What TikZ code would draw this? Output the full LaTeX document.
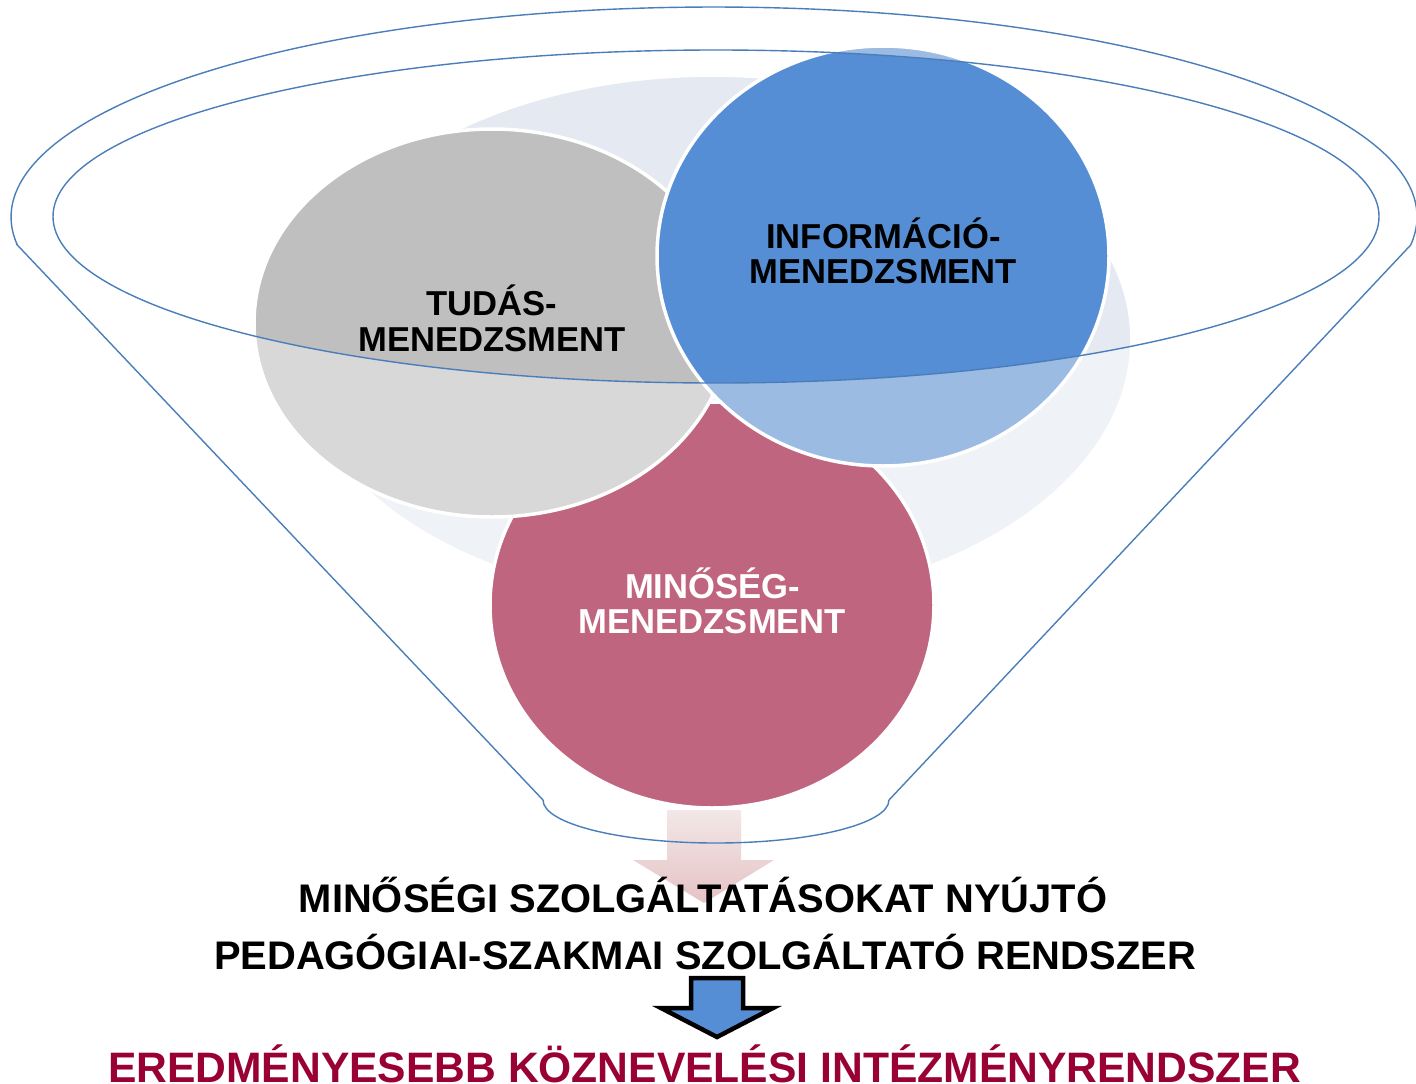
\documentclass[tikz,border=0pt]{standalone}
\usepackage{fontspec}
\setmainfont{Liberation Sans}
\definecolor{paleIn}{HTML}{E4E9F2}
\definecolor{paleOut}{HTML}{EFF3F8}
\definecolor{grayIn}{HTML}{BFBFBF}
\definecolor{grayOut}{HTML}{D8D8D8}
\definecolor{blueIn}{HTML}{558ED5}
\definecolor{blueOut}{HTML}{9BBBE3}
\definecolor{pinkc}{HTML}{C0657F}
\definecolor{lineblue}{HTML}{4A7EBB}
\definecolor{redc}{HTML}{990033}
\definecolor{arrowblue}{HTML}{558ED5}
\definecolor{arrowTop}{HTML}{F3E7E7}
\definecolor{arrowBot}{HTML}{E5C3C5}
\begin{document}
\begin{tikzpicture}[x=1pt,y=-1pt,
  funnel/.style={draw=lineblue, line width=1.4pt},
  whiteedge/.style={draw=white, line width=3.5pt},
  lbl/.style={font=\fontsize{34.6}{38}\selectfont\bfseries, inner sep=0pt, anchor=base},
  big/.style={font=\fontsize{39.9}{44}\selectfont\bfseries, inner sep=0pt, anchor=base},
  redline/.style={font=\fontsize{42.6}{48}\selectfont\bfseries, text=redc, inner sep=0pt, anchor=base},
  arrowbox/.style={draw=black, line width=4.5pt, fill=arrowblue, line join=miter}
]
\useasboundingbox (0,0) rectangle (1416,1084);
\fill[white] (0,0) rectangle (1416,1084);
% pale background ellipse
\fill[paleOut] (712,340) ellipse [x radius=418, y radius=263];
% pink circle
\filldraw[fill=pinkc, whiteedge] (712,605) ellipse [x radius=222, y radius=203];
% gray ellipse
\filldraw[fill=grayOut, whiteedge] (492,323) ellipse [x radius=238, y radius=194];
% blue circle
\filldraw[fill=blueOut, whiteedge] (883,256) ellipse [x radius=226, y radius=210];
% darker parts inside the funnel opening
\begin{scope}
  \clip (716,216.5) ellipse [x radius=663, y radius=166.5];
  \fill[paleIn] (712,340) ellipse [x radius=418, y radius=263];
  \filldraw[fill=grayIn, whiteedge] (492,323) ellipse [x radius=238, y radius=194];
  \filldraw[fill=blueIn, whiteedge] (883,256) ellipse [x radius=226, y radius=210];
\end{scope}
% pale pink arrow
\shade[top color=arrowTop, bottom color=arrowBot]
  (667,810) -- (741,810) -- (741,860) -- (774,860) -- (704,903) -- (633,860) -- (667,860) -- cycle;
% funnel outline
\coordinate (L1) at (17.3,245);
\coordinate (L2) at (543,800);
\coordinate (R1) at (1410.7,245);
\draw[funnel] (L1) -- (L2)
  arc[start angle=180, end angle=0, x radius=173, y radius=43]
  -- (R1)
  arc[start angle=7.66, end angle=-187.66, x radius=703, y radius=210] -- cycle;
\draw[funnel] (716,216.5) ellipse [x radius=663, y radius=166.5];
% labels
\node[lbl] (tudas1) at (492,315) {TUDÁS-};
\node[lbl] (tudas2) at (492,351) {MENEDZSMENT};
\node[lbl] (info1) at (883.5,248) {INFORMÁCIÓ-};
\node[lbl] (info2) at (883.5,283) {MENEDZSMENT};
\node[lbl, text=white] (min1) at (712.5,598) {MINŐSÉG-};
\node[lbl, text=white] (min2) at (712.5,633) {MENEDZSMENT};
\node[big] (line1) at (703,912) {MINŐSÉGI SZOLGÁLTATÁSOKAT NYÚJTÓ};
\node[big] (line2) at (705,969) {PEDAGÓGIAI-SZAKMAI SZOLGÁLTATÓ RENDSZER};
% blue arrow
\draw[arrowbox] (691,978) -- (743,978) -- (743,1008) -- (773,1008) -- (717,1037) -- (661,1008) -- (691,1008) -- cycle;
\node[redline] (line3) at (704.5,1082) {EREDMÉNYESEBB KÖZNEVELÉSI INTÉZMÉNYRENDSZER};
\end{tikzpicture}
\end{document}
